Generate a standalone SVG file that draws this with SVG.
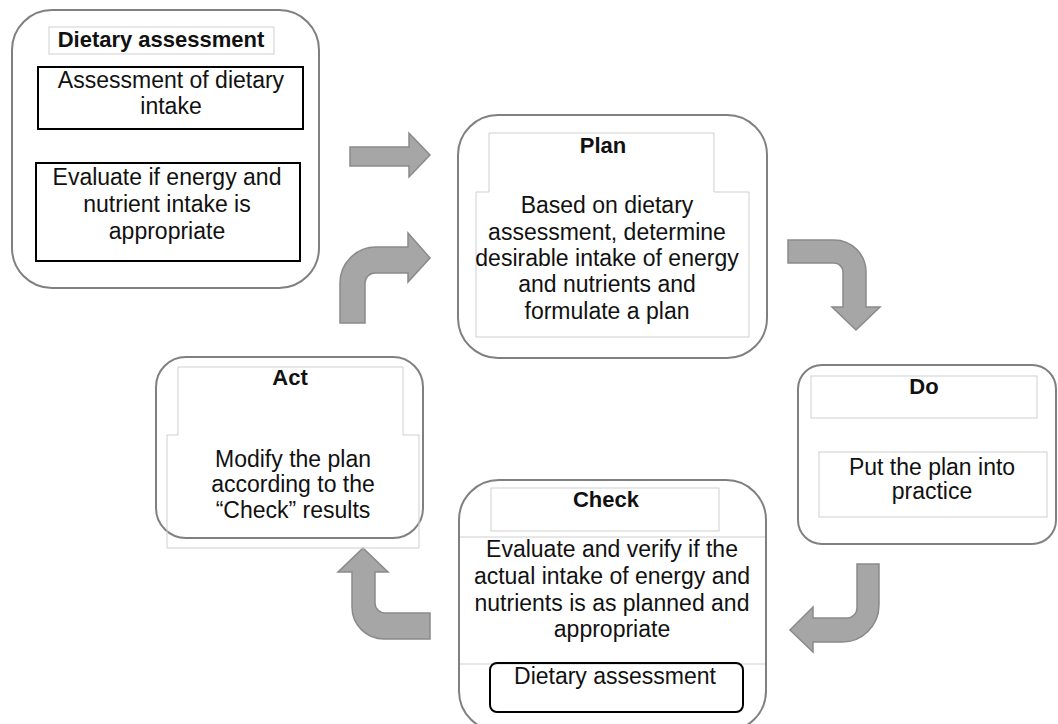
<svg xmlns="http://www.w3.org/2000/svg" width="1058" height="724" viewBox="0 0 1058 724">
<style>
.outer{fill:#fff;stroke:#808080;stroke-width:2}
.thin{fill:none;stroke:#cfcfcf;stroke-width:1}
.blk{fill:none;stroke:#000;stroke-width:2}
.arrow{fill:#a6a6a6;stroke:#8a8a8a;stroke-width:1.5;stroke-linejoin:miter}
text{font-family:"Liberation Sans",Arial,sans-serif;fill:#111;text-anchor:middle}
.t{font-size:22px;font-weight:bold}
.b{font-size:23px}
</style>
<rect width="1058" height="724" fill="#fff"/>
<g id="connectors">
<path class="arrow" d="M350,147 L409,147 L409,133 L430,155 L409,177 L409,166 L350,166 Z"/>
<path class="arrow" d="M340,323 L340,283 A36,36 0 0 1 376,247 L408,247 L408,233 L430,258 L408,282 L408,273 L375,273 A10,10 0 0 0 365,283 L365,323 Z"/>
<path class="arrow" d="M788,240 L834,240 A32,32 0 0 1 866,272 L866,307 L880,307 L856,330 L832,307 L843,307 L843,272 A9,9 0 0 0 834,263 L788,263 Z"/>
<path class="arrow" d="M857,564 L879,564 L879,605 A37,37 0 0 1 842,642 L813,642 L813,652 L790,630 L813,607 L813,618 L847,618 A10,10 0 0 0 857,608 Z"/>
<path class="arrow" d="M363,548 L388,572 L375,572 L375,603 A10,10 0 0 0 385,613 L430,613 L430,639 L384,639 A32,32 0 0 1 352,607 L352,572 L338,572 Z"/>
</g>
<g id="dietary-assessment">
<rect class="outer" x="12" y="10" width="307" height="278" rx="40"/>
<rect class="thin" x="49" y="27" width="225" height="27"/>
<text class="t" x="161" y="47">Dietary assessment</text>
<rect class="blk" x="38" y="67" width="265" height="62"/>
<text class="b" x="171" y="88">Assessment of dietary</text>
<text class="b" x="171" y="114">intake</text>
<rect class="blk" x="36" y="163" width="264" height="98"/>
<text class="b" x="167" y="185">Evaluate if energy and</text>
<text class="b" x="167" y="212">nutrient intake is</text>
<text class="b" x="167" y="239">appropriate</text>
</g>
<g id="plan">
<rect class="outer" x="458" y="115" width="309" height="243" rx="40"/>
<polygon class="thin" points="489,133 714,133 714,192 749,192 749,337 476,337 476,192 489,192"/>
<text class="t" x="603" y="153">Plan</text>
<text class="b" x="607" y="213">Based on dietary</text>
<text class="b" x="607" y="240">assessment, determine</text>
<text class="b" x="607" y="266">desirable intake of energy</text>
<text class="b" x="607" y="292">and nutrients and</text>
<text class="b" x="607" y="319">formulate a plan</text>
</g>
<g id="do">
<rect class="outer" x="798" y="365" width="258" height="179" rx="24"/>
<rect class="thin" x="811" y="376" width="226" height="42"/>
<text class="t" x="924" y="394">Do</text>
<rect class="thin" x="819" y="452" width="228" height="65"/>
<text class="b" x="932" y="475">Put the plan into</text>
<text class="b" x="932" y="499">practice</text>
</g>
<g id="check">
<rect class="outer" x="459" y="480" width="307" height="251" rx="40"/>
<rect class="thin" x="491" y="488" width="228" height="43"/>
<line class="thin" x1="460" y1="537" x2="765" y2="537"/>
<line class="thin" x1="460" y1="664" x2="765" y2="664"/>
<text class="t" x="606" y="507">Check</text>
<text class="b" x="612" y="557">Evaluate and verify if the</text>
<text class="b" x="612" y="584">actual intake of energy and</text>
<text class="b" x="612" y="611">nutrients is as planned and</text>
<text class="b" x="612" y="637">appropriate</text>
<rect class="blk" x="490" y="663" width="253" height="49" rx="7" stroke-width="2.5"/>
<text class="b" x="615" y="684">Dietary assessment</text>
</g>
<g id="act">
<rect class="outer" x="156" y="357" width="267" height="181" rx="30"/>
<polygon class="thin" points="178,367 403,367 403,435 419,435 419,548 167,548 167,435 178,435"/>
<text class="t" x="290" y="385">Act</text>
<text class="b" x="293" y="467">Modify the plan</text>
<text class="b" x="293" y="492">according to the</text>
<text class="b" x="293" y="518">“Check” results</text>
</g>
</svg>
